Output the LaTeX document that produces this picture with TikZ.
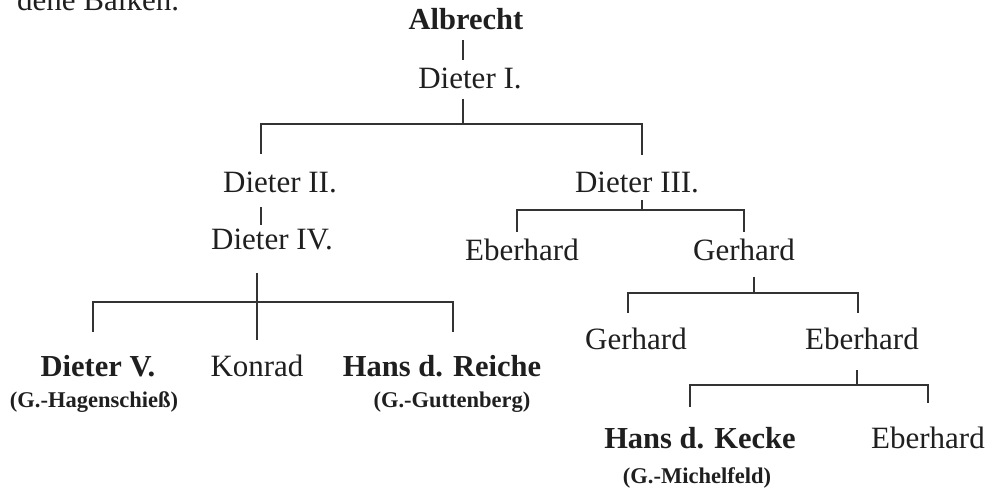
\documentclass[tikz,border=0pt]{standalone}
\usepackage{fontspec}
\setmainfont{Liberation Serif}
\begin{document}
\begin{tikzpicture}[x=1pt,y=-1pt,
  pname/.style={anchor=base,inner sep=0pt,text=black!88,font=\fontsize{31}{36}\selectfont},
  bpname/.style={pname,font=\fontsize{30.5}{36}\selectfont\bfseries},
  subname/.style={anchor=base,inner sep=0pt,text=black!88,font=\fontsize{22.5}{26}\selectfont\bfseries},
  link/.style={draw=black!80,line width=2.8pt,line cap=butt,line join=miter}]
\useasboundingbox (0,0) rectangle (997,489);
\clip (0,0) rectangle (997,489);
% cut-off line of the page above
\node[pname,anchor=base west] (prev) at (17,10.5) {dene Balken.};
% persons
\node[bpname] (albrecht) at (466,30) {Albrecht};
\node[pname] (d1) at (470,89) {Dieter I.};
\node[pname] (d2) at (280,193) {Dieter II.};
\node[pname] (d3) at (637,193) {Dieter III.};
\node[pname] (d4) at (272,250) {Dieter IV.};
\node[pname] (eb1) at (522,261) {Eberhard};
\node[pname] (ge1) at (744,261) {Gerhard};
\node[bpname] (d5) at (98,377) {Dieter V.};
\node[subname] (d5s) at (94,407) {(G.-Hagenschieß)};
\node[pname] (konrad) at (257,377) {Konrad};
\node[bpname] (hr) at (442,377) {Hans d. Reiche};
\node[subname] (hrs) at (452,407) {(G.-Guttenberg)};
\node[pname] (ge2) at (636,350) {Gerhard};
\node[pname] (eb2) at (862,350) {Eberhard};
\node[bpname] (hk) at (700,448) {Hans d. Kecke};
\node[subname] (hks) at (697,483) {(G.-Michelfeld)};
\node[pname] (eb3) at (928,448) {Eberhard};
% junction coordinates
\coordinate (a1) at (463,40);  \coordinate (a2) at (463,60);
\coordinate (j1) at (463,99);  \coordinate (b1) at (463,124);
\coordinate (b1l) at (261,124); \coordinate (b1r) at (642,124);
\coordinate (c1l) at (261,154); \coordinate (c1r) at (642,155);
\coordinate (e1) at (261,207); \coordinate (e2) at (261,225);
\coordinate (j3) at (642,200); \coordinate (b3) at (642,210);
\coordinate (b3l) at (517,210); \coordinate (b3r) at (744,210);
\coordinate (c3l) at (517,232); \coordinate (c3r) at (744,232);
\coordinate (j4) at (257,273); \coordinate (c4m) at (257,340);
\coordinate (b4l) at (93,302); \coordinate (b4r) at (453,302);
\coordinate (c4l) at (93,332); \coordinate (c4r) at (453,332);
\coordinate (j5) at (754,277); \coordinate (b5) at (754,293);
\coordinate (b5l) at (628,293); \coordinate (b5r) at (858,293);
\coordinate (c5l) at (628,313); \coordinate (c5r) at (858,313);
\coordinate (j6) at (857,370); \coordinate (b6) at (857,385);
\coordinate (b6l) at (690,385); \coordinate (b6r) at (928,385);
\coordinate (c6l) at (690,407); \coordinate (c6r) at (928,403);
% connectors
\draw[link] (a1) -- (a2);
\draw[link] (j1) -- (b1);
\draw[link] (c1l) -- (b1l) -- (b1r) -- (c1r);
\draw[link] (e1) -- (e2);
\draw[link] (j3) -- (b3);
\draw[link] (c3l) -- (b3l) -- (b3r) -- (c3r);
\draw[link] (j4) -- (c4m);
\draw[link] (c4l) -- (b4l) -- (b4r) -- (c4r);
\draw[link] (j5) -- (b5);
\draw[link] (c5l) -- (b5l) -- (b5r) -- (c5r);
\draw[link] (j6) -- (b6);
\draw[link] (c6l) -- (b6l) -- (b6r) -- (c6r);
\end{tikzpicture}
\end{document}
